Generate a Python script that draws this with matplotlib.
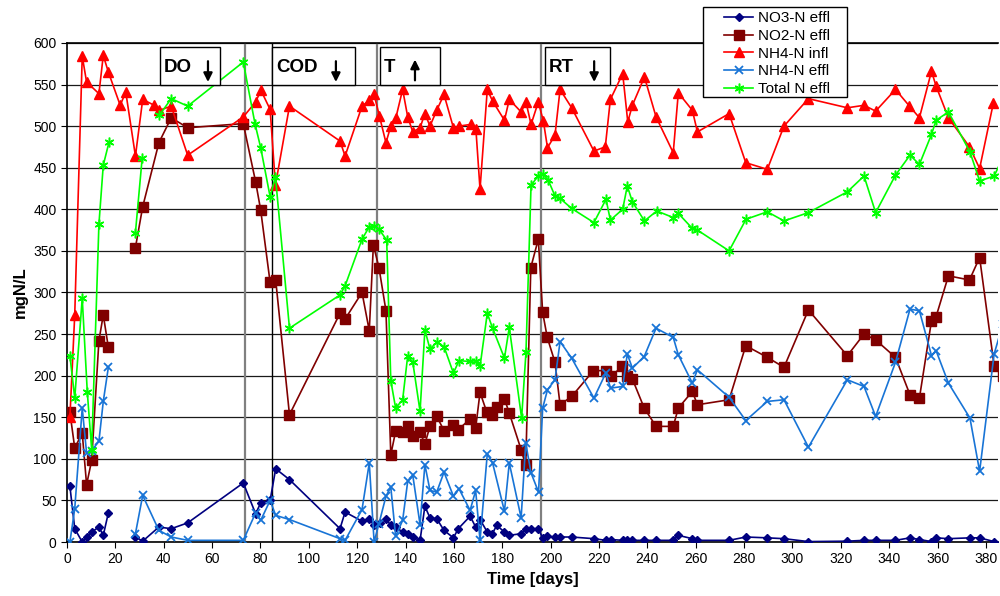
import numpy as np
import matplotlib
matplotlib.use("Agg")
import matplotlib.pyplot as plt
from matplotlib.patches import Rectangle

nan = np.nan

# ---- NO3-N effluent ----
no3_days = [1.2, 3.2, 6.3, 8.1, 10.2, 13.2, 15, 17.1, 20, 28.3,
            31.3, 38, 43.1, 49.9, 72.9, 78, 80.1, 84, 86.3, 92,
            112.9, 115, 122, 125, 127, 129.4, 131.9, 133.9, 135.9, 138.8,
            140.9, 143, 146, 148, 150.1, 152.9, 155.9, 159.8, 161.8, 166.7,
            169, 170.8, 173.8, 175.9, 177.7, 180.9, 182.9, 187.8, 189.7, 191.9,
            194.9, 196.7, 198.6, 201.8, 203.9, 208.7, 217.9, 222.8, 224.8, 229.8,
            231.7, 233.8, 238.7, 243.6, 250.7, 252.8, 258.6, 260.7, 273.8, 280.7,
            289.6, 296.5, 306.6, 322.7, 329.6, 334.4, 342.6, 348.6, 352.5, 357.5,
            359.4, 364.5, 373.4, 377.4, 383.4]
no3_effl = [67, 16, 0, 6, 12, 18, 8, 35, nan, 6,
            1, 18, 16, 23, 71, 34, 47, 50, 88, 75,
            16, 36, 25, 28, 20, 23, 28, 20, 18, 12,
            10, 6, 2, 43, 29, 28, 14, 5, 16, 31,
            18, 27, 12, 10, 20, 12, 8, 10, 16, 16,
            16, 5, 7, 6, 6, 6, 4, 2, 3, 2,
            2, 2, 2, 2, 2, 8, 4, 2, 2, 6,
            5, 4, 0.5, 1, 2, 2, 2, 5, 3, 0.5,
            5, 4, 5, 5, 0.5]

# ---- NO2-N effluent ----
no2_days = [1.2, 3.2, 6.3, 8.1, 10.2, 13.2, 15, 17.1, 20, 28.3,
            31.3, 38, 43.1, 49.9, 72.9, 78, 80.1, 84, 86.3, 92,
            112.9, 115, 122, 125, 126.7, 129, 131.9, 133.9, 135.9, 138.8,
            140.9, 143, 146, 148, 150.1, 152.9, 155.9, 159.8, 161.8, 166.7,
            169, 170.8, 173.6, 175.9, 177.7, 180.9, 182.9, 187.8, 189.7, 191.8,
            194.9, 196.7, 198.6, 201.8, 203.9, 208.7, 217.7, 222.8, 224.8, 229.7,
            231.7, 233.8, 238.7, 243.6, 250.7, 252.8, 258.6, 260.7, 273.8, 280.7,
            289.6, 296.5, 306.6, 322.7, 329.6, 334.4, 342.6, 348.6, 352.5, 357.5,
            359.4, 364.5, 373.2, 377.4, 383.4, 387]
no2_effl = [156, 113, 131, 69, 98, 242, 273, 234, nan, 354,
            403, 480, 510, 498, 503, 433, 399, 312, 315, 153,
            275, 268, 300, 254, 357, 330, 278, 105, 133, 132,
            139, 127, 132, 118, 139, 151, 134, 141, 135, 148,
            137, 180, 156, 153, 162, 172, 155, 111, 92, 330,
            364, 276, 246, 216, 165, 175, 206, 206, 199, 211,
            200, 196, 161, 139, 139, 161, 181, 165, 171, 236,
            222, 210, 279, 224, 250, 243, 222, 177, 173, 266,
            271, 320, 315, 342, 212, 200]

# ---- NH4-N influent ----
nh4i_days = [1.2, 3.2, 6.3, 8.1, 13.2, 15, 17.1, 22, 24.3, 28.3,
             31.3, 36.1, 38.2, 43.1, 49.9, 72.9, 78, 80.2, 84, 86.2,
             92, 112.9, 115, 122, 125, 127, 129.2, 131.9, 133.9, 136,
             138.8, 140.9, 143, 146, 148, 150.1, 152.9, 155.9, 159.8, 162.1,
             167, 169.1, 170.8, 173.8, 176, 180.9, 182.9, 187.8, 189.8, 191.9,
             194.9, 197, 198.7, 201.8, 203.9, 208.7, 217.9, 222.6, 224.7, 229.8,
             231.9, 233.8, 238.8, 243.6, 250.7, 252.8, 258.6, 260.7, 273.8, 280.7,
             289.6, 296.5, 306.6, 322.7, 329.6, 334.4, 342.6, 348.4, 352.5, 357.5,
             359.4, 364.5, 373.2, 377.4, 383.1]
nh4_infl = [150, 273, 584, 553, 539, 585, 565, 525, 541, 464,
            532, 525, 519, 524, 465, 511, 529, 543, 520, 429,
            524, 482, 464, 524, 531, 538, 512, 480, 500, 510,
            544, 511, 493, 498, 515, 500, 519, 538, 498, 500,
            502, 496, 424, 544, 530, 507, 532, 517, 529, 502,
            529, 506, 474, 489, 544, 522, 470, 475, 532, 563,
            505, 525, 559, 511, 468, 540, 519, 493, 515, 456,
            448, 500, 533, 522, 525, 518, 544, 524, 510, 566,
            548, 510, 475, 449, 528]

# ---- NH4-N effluent ----
nh4e_days = [1.2, 3.2, 6.3, 8.1, 10.2, 13.2, 15, 17.1, 20, 28.3,
             31.3, 38, 43.1, 49.9, 72.9, 78, 80.1, 84, 86.3, 92,
             112.9, 115, 122, 125, 127, 129, 131.9, 133.9, 135.9, 138.8,
             140.9, 143, 146, 148, 150.1, 152.9, 155.9, 159.8, 162.1, 166.7,
             169, 170.8, 173.8, 176, 180.9, 182.9, 187.8, 189.7, 191.9, 195,
             196.7, 198.7, 201.8, 203.9, 208.7, 217.9, 222.8, 224.8, 229.8, 231.7,
             233.8, 238.7, 243.6, 250.7, 252.8, 258.6, 260.7, 273.8, 280.7, 289.6,
             296.5, 306.6, 322.7, 329.6, 334.4, 342.6, 348.6, 352.5, 357.5, 359.4,
             364.5, 373.4, 377.4, 383.4, 387]
nh4_effl = [0, 40, 161, 107, 110, 121, 169, 210, nan, 10,
            56, 14, 6, 2, 2, 35, 26, 50, 32, 27,
            4, 2, 39, 95, 0, 22, 55, 66, 7, 26,
            73, 80, 21, 93, 62, 60, 84, 55, 64, 38,
            62, 2, 106, 95, 37, 95, 29, 119, 83, 60,
            161, 183, 195, 241, 221, 173, 203, 185, 187, 226,
            209, 223, 257, 246, 225, 191, 207, 174, 146, 169,
            171, 114, 195, 187, 151, 216, 280, 278, 224, 230,
            191, 149, 85, 226, 262]

# ---- Total N effluent ----
totn_days = [1.2, 3.2, 6.3, 8.4, 10.2, 13.2, 15, 17.4, 20, 28.3,
             31.1, 35, 38.2, 43.1, 49.9, 72.9, 77.8, 80.1, 84, 86.2,
             92, 112.9, 115, 122, 125, 127, 129, 132.2, 133.9, 135.9,
             138.8, 140.9, 143, 146, 148, 150.1, 152.9, 155.9, 159.8, 162.1,
             166.7, 169.1, 170.8, 173.8, 176, 180.9, 182.9, 188, 189.8, 191.9,
             194.9, 196.7, 199, 201.8, 203.9, 208.7, 217.9, 222.9, 224.7, 229.8,
             231.7, 233.8, 238.8, 243.9, 250.7, 252.8, 258.6, 260.7, 273.8, 280.8,
             289.6, 296.5, 306.6, 322.7, 329.6, 334.4, 342.6, 348.6, 352.5, 357.5,
             359.4, 364.5, 373.4, 377.4, 383.4, 387]
total_n = [224, 173, 293, 180, 111, 382, 453, 481, nan, 372,
           462, nan, 513, 533, 524, 577, 502, 474, 415, 439,
           257, 297, 308, 364, 379, 380, 376, 363, 194, 161,
           171, 224, 216, 157, 255, 232, 240, 235, 203, 218,
           217, 218, 211, 275, 257, 221, 258, 149, 228, 429,
           440, 443, 435, 416, 413, 401, 384, 412, 387, 400,
           428, 409, 386, 398, 390, 395, 377, 375, 350, 388,
           397, 386, 396, 421, 440, 396, 441, 465, 454, 490,
           507, 517, 469, 434, 440, 462]

# operating changes: divider day, label, label box span, arrow position / direction
event_days = [73.6, 84.8, 128.2, 196.0]
event_colors = ["#808080", "#000000", "#808080", "#808080"]
event_labels = ["DO", "COD", "T", "RT"]
event_boxes = [(38.5, 63.3), (84.8, 119.1), (129.4, 154.3), (197.7, 224.6)]
event_arrow_x = [58.3, 111.2, 143.9, 218.0]
event_arrow_up = [False, False, True, False]

plt.rcParams["font.family"] = ["Liberation Sans", "DejaVu Sans"]

fig = plt.figure(figsize=(10, 5.96), dpi=100)
ax = fig.add_axes([0.067, 0.0906, 0.931, 0.8374])

ax.set_xlim(0, 385)
ax.set_ylim(0, 600)
ax.set_xticks(np.arange(0, 381, 20))
ax.set_yticks(np.arange(0, 601, 50))
ax.tick_params(axis="both", labelsize=10, direction="out", length=4, width=0.8)
ax.yaxis.grid(True, color="#1a1a1a", linewidth=0.9)
ax.set_axisbelow(True)
ax.spines["right"].set_visible(False)
for s in ("left", "top", "bottom"):
    ax.spines[s].set_linewidth(1.2)

for xd, c in zip(event_days, event_colors):
    ax.axvline(xd, color=c, linewidth=1.6 if c != "#000000" else 1.0, zorder=1)

series = [
    (no3_days, no3_effl, "NO3-N effl", dict(color="#000080", marker="D", markersize=4.5)),
    (no2_days, no2_effl, "NO2-N effl", dict(color="#800000", marker="s", markersize=6.5)),
    (nh4i_days, nh4_infl, "NH4-N infl", dict(color="#ff0000", marker="^", markersize=7)),
    (nh4e_days, nh4_effl, "NH4-N effl", dict(color="#1874d6", marker="x", markersize=6,
                                              markeredgewidth=1.3)),
    (totn_days, total_n, "Total N effl", dict(color="#00ff00", marker=(6, 2, 0), markersize=7,
                                               markeredgewidth=1.1)),
]
handles = []
for d, v, lab, kw in series:
    h, = ax.plot(d, v, linewidth=1.2, label=lab, zorder=3, clip_on=True, **kw)
    handles.append(h)

# labelled boxes marking the operating changes
for lab, (x0, x1), xa, up in zip(event_labels, event_boxes, event_arrow_x, event_arrow_up):
    ax.add_patch(Rectangle((x0, 549), x1 - x0, 46, facecolor="white", edgecolor="black",
                           linewidth=1.0, zorder=6))
    ax.text(x0 + 1.6, 571, lab, fontsize=13.5, fontweight="bold", va="center", ha="left",
            zorder=7)
    y_from, y_to = (555, 580) if up else (578, 553)
    ax.annotate("", xy=(xa, y_to), xytext=(xa, y_from), zorder=7,
                arrowprops=dict(arrowstyle="-|>", color="black", lw=1.6, mutation_scale=13,
                                shrinkA=0, shrinkB=0))

ax.set_xlabel("Time [days]", fontsize=12, fontweight="bold", labelpad=4)
ax.set_ylabel("mgN/L", fontsize=12, fontweight="bold", labelpad=4)

# legend frame drawn separately so the entries sit with a wide left margin
fig.patches.append(Rectangle((0.703, 0.8372), 0.144, 0.151, transform=fig.transFigure,
                             facecolor="white", edgecolor="black", linewidth=1.0,
                             zorder=4, figure=fig))
leg = fig.legend(handles=handles, loc="upper left", bbox_to_anchor=(0.724, 0.981),
                 fontsize=11, frameon=False, handlelength=1.9, labelspacing=0.24,
                 borderpad=0.0, borderaxespad=0.0, handletextpad=0.3)
leg.set_zorder(10)

fig.savefig("out.png", dpi=100)
